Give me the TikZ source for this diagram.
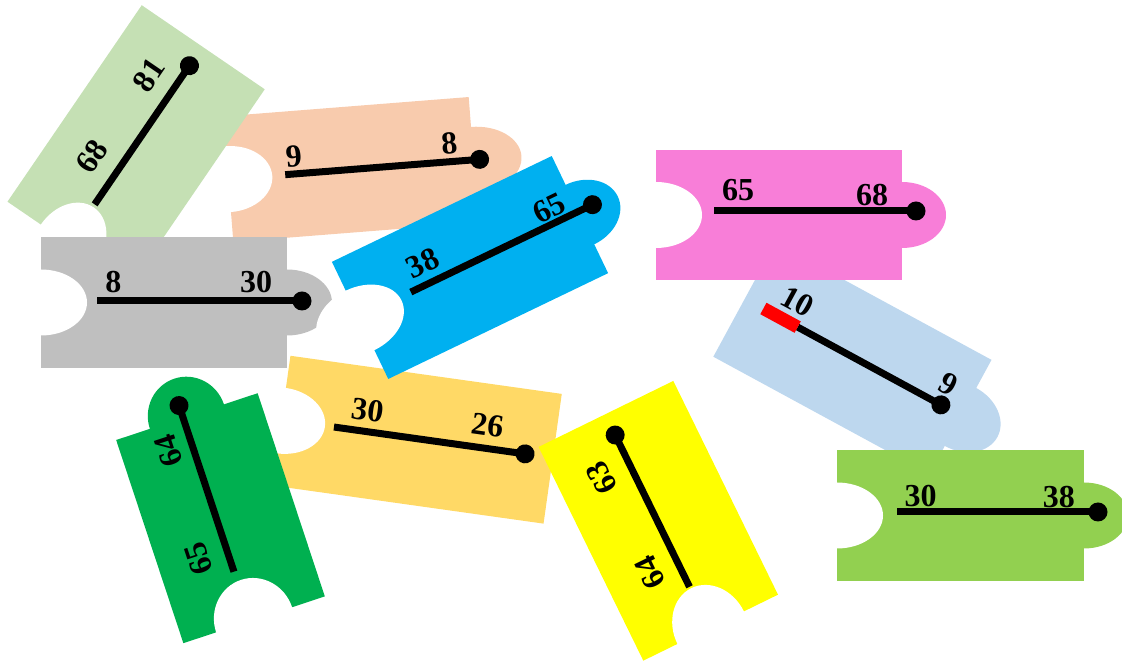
\documentclass[tikz,border=0pt]{standalone}
\usepackage{fontspec}
\setmainfont{Liberation Serif}
\definecolor{cPeach}{RGB}{248,203,173}
\definecolor{cLgreen}{RGB}{197,224,180}
\definecolor{cGrey}{RGB}{191,191,191}
\definecolor{cGold}{RGB}{255,217,102}
\definecolor{cDgreen}{RGB}{0,176,80}
\definecolor{cYellow}{RGB}{255,255,0}
\definecolor{cLblue}{RGB}{189,215,238}
\definecolor{cPink}{RGB}{248,126,216}
\definecolor{cLime}{RGB}{146,208,80}
\definecolor{cBlue}{RGB}{0,176,240}
\tikzset{
  hole/.style={fill=white},
  bar/.style={line width=7pt, draw=black},
  knob/.style={circle, fill=black, minimum size=19pt, inner sep=0pt},
  num/.style={font=\fontsize{32}{32}\selectfont\bfseries, inner sep=0pt},
  startmark/.style={line width=13pt, draw=red},
}
\begin{document}
\begin{tikzpicture}[x=1pt,y=1pt]
\useasboundingbox (0,0) rectangle (1122,661);
\clip (0,0) rectangle (1122,661);

% peach 9 -> 8
\begin{scope}[shift={(351,491.5)}, rotate=4.5, transform shape]
  \fill[cPeach] (-123,-63) rectangle (123,63);
  \fill[cPeach] (123,0) ellipse [x radius=48, y radius=33];
  \fill[hole] (-123,0) ellipse [x radius=44, y radius=33];
  \coordinate (p1s) at (-66,0);
  \node[knob] (p1d) at (129,0) {};
  \draw[bar] (p1s) -- (p1d.center);
  \node[num] (p1a) at (-56,17) {9};
  \node[num] (p1b) at (100,18) {8};
\end{scope}

% light green 68 -> 81
\begin{scope}[shift={(136.1,515.5)}, rotate=55.65, transform shape]
  \fill[cLgreen] (-119,-74.5) rectangle (119,74.5);
  \fill[hole] (-119,0) ellipse [x radius=44, y radius=34];
  \coordinate (p2s) at (-72,1);
  \node[knob] (p2d) at (96,1) {};
  \draw[bar] (p2s) -- (p2d.center);
  \node[num] (p2a) at (-34,30) {68};
  \node[num] (p2b) at (65.5,29) {81};
\end{scope}

% grey 8 -> 30
\begin{scope}[shift={(164,358.5)}, transform shape]
  \fill[cGrey] (-123,-65.5) rectangle (123,65.5);
  \fill[cGrey] (123,0) ellipse [x radius=45, y radius=33];
  \fill[hole] (-123,0) ellipse [x radius=46, y radius=33];
  \coordinate (p3s) at (-67,1.5);
  \node[knob] (p3d) at (138,1.5) {};
  \draw[bar] (p3s) -- (p3d.center);
  \node[num] (p3a) at (-50.7,20) {8};
  \node[num] (p3b) at (92,20) {30};
\end{scope}

% golden 30 -> 26
\begin{scope}[shift={(417,221.3)}, rotate=-8, transform shape]
  \fill[cGold] (-137,-65.5) rectangle (137,65.5);
  \fill[hole] (-137,0) ellipse [x radius=44, y radius=33];
  \coordinate (p4s) at (-84,1);
  \node[knob] (p4d) at (109,1) {};
  \draw[bar] (p4s) -- (p4d.center);
  \node[num] (p4a) at (-53,22.5) {30};
  \node[num] (p4b) at (68,24.4) {26};
\end{scope}

% dark green 65 -> 64
\begin{scope}[shift={(220.5,142.8)}, rotate=108.3, transform shape]
  \fill[cDgreen] (-107,-74.5) rectangle (107,74.5);
  \fill[cDgreen] (107,0) ellipse [x radius=40, y radius=39];
  \fill[hole] (-107,0) ellipse [x radius=42, y radius=40];
  \coordinate (p5s) at (-55,4);
  \node[knob] (p5d) at (120,4) {};
  \draw[bar] (p5s) -- (p5d.center);
  \node[num] (p5a) at (-31.7,34) {65};
  \node[num] (p5b) at (80,28) {64};
\end{scope}

% yellow 64 -> 63
\begin{scope}[shift={(658.3,140.2)}, rotate=116.1, transform shape]
  \fill[cYellow] (-119,-75) rectangle (119,75);
  \fill[hole] (-119,0) ellipse [x radius=44, y radius=37];
  \coordinate (p6s) at (-73,1);
  \node[knob] (p6d) at (96,1) {};
  \draw[bar] (p6s) -- (p6d.center);
  \node[num] (p6a) at (-42.8,30.2) {64};
  \node[num] (p6b) at (63.6,32) {63};
\end{scope}

% light blue 10 -> 9 (start)
\begin{scope}[shift={(852.4,302.7)}, rotate=-28.5, transform shape]
  \fill[cLblue] (-123,-65) rectangle (123,65);
  \fill[cLblue] (123,0) ellipse [x radius=42, y radius=33];
  \coordinate (p7r) at (-102,1.3);
  \coordinate (p7s) at (-63,1.3);
  \node[knob] (p7d) at (100,1.3) {};
  \draw[bar] (p7s) -- (p7d.center);
  \draw[startmark] (p7r) -- (p7s);
  \node[num] (p7a) at (-75.4,23.7) {10};
  \node[num] (p7b) at (96.6,23.2) {9};
\end{scope}

% pink 65 -> 68
\begin{scope}[shift={(779,446)}, transform shape]
  \fill[cPink] (-123,-65) rectangle (123,65);
  \fill[cPink] (123,0) ellipse [x radius=44, y radius=33];
  \fill[hole] (-123,0) ellipse [x radius=46, y radius=33];
  \coordinate (p8s) at (-65,4);
  \node[knob] (p8d) at (137,4) {};
  \draw[bar] (p8s) -- (p8d.center);
  \node[num] (p8a) at (-41,25) {65};
  \node[num] (p8b) at (93,20) {68};
\end{scope}

% lime 30 -> 38
\begin{scope}[shift={(960.5,145.5)}, transform shape]
  \fill[cLime] (-123.5,-65.5) rectangle (123.5,65.5);
  \fill[cLime] (123.5,0) ellipse [x radius=44, y radius=33];
  \fill[hole] (-123.5,0) ellipse [x radius=46, y radius=33];
  \coordinate (p9s) at (-63.5,3.5);
  \node[knob] (p9d) at (137.5,3.5) {};
  \draw[bar] (p9s) -- (p9d.center);
  \node[num] (p9a) at (-40,19.7) {30};
  \node[num] (p9b) at (98.3,18) {38};
\end{scope}

% blue 38 -> 65
\begin{scope}[shift={(470,393.5)}, rotate=25.7, transform shape]
  \fill[cBlue] (-122,-65) rectangle (122,65);
  \fill[cBlue] (122,0) ellipse [x radius=42, y radius=33];
  \fill[hole] (-122,0) ellipse [x radius=46, y radius=33];
  \coordinate (p10s) at (-64,3.5);
  \node[knob] (p10d) at (137.6,3.5) {};
  \draw[bar] (p10s) -- (p10d.center);
  \node[num] (p10a) at (-40.7,24.3) {38};
  \node[num] (p10b) at (97.1,19) {65};
\end{scope}
\end{tikzpicture}
\end{document}
